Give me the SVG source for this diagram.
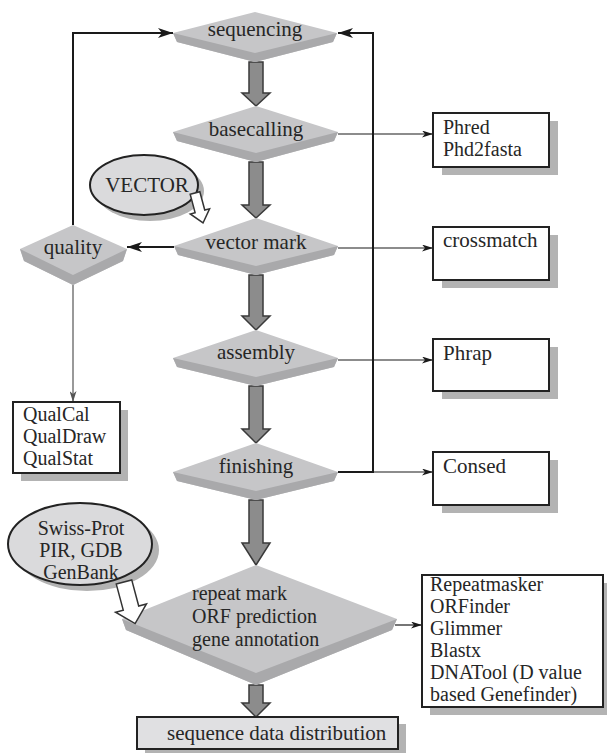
<svg xmlns="http://www.w3.org/2000/svg" width="607" height="753" viewBox="0 0 607 753">
<style>
text{font-family:"Liberation Serif","Times New Roman",serif;font-size:21px;fill:#262626}
.ml{font-size:20px}
.face{fill:#c6c6c8}
.strip{fill:#a9a9ab}
.box{fill:#fff;stroke:#222;stroke-width:2}
.shadow{fill:#b3b3b3}
.ell{fill:#dadadc;stroke:#222;stroke-width:2}
.blk{fill:#8c8c8c;stroke:#3a3a3a;stroke-width:1.5}
.hollow{fill:#fff;stroke:#333;stroke-width:1.5}
.thick{fill:none;stroke:#1a1a1a;stroke-width:2}
.thin{fill:none;stroke:#1a1a1a;stroke-width:1.2}
.mid{text-anchor:middle}
</style>
<defs>
<marker id="big" viewBox="0 0 15 10" refX="15" refY="5" markerWidth="15" markerHeight="10" markerUnits="userSpaceOnUse" orient="auto">
<path d="M0,0 L15,5 L0,10 L4,5 Z" fill="#1a1a1a"/>
</marker>
<marker id="small" viewBox="0 0 11 7" refX="11" refY="3.5" markerWidth="11" markerHeight="7" markerUnits="userSpaceOnUse" orient="auto">
<path d="M0,0 L11,3.5 L0,7 L3,3.5 Z" fill="#1a1a1a"/>
</marker>
<marker id="grey" viewBox="0 0 11 7" refX="11" refY="3.5" markerWidth="11" markerHeight="7" markerUnits="userSpaceOnUse" orient="auto">
<path d="M0,0 L11,3.5 L0,7 L3,3.5 Z" fill="#555"/>
</marker>
</defs>

<g id="connectors">
<polyline class="thick" points="73,225 73,33 173,33" marker-end="url(#big)"/>
<polyline class="thick" points="338,472 373,472 373,33 338,33" marker-end="url(#big)"/>
<line class="thick" x1="174" y1="247" x2="127" y2="247" marker-end="url(#big)"/>
<line class="thin" x1="338" y1="134" x2="433" y2="134" marker-end="url(#small)"/>
<line class="thin" x1="338" y1="248" x2="433" y2="248" marker-end="url(#small)"/>
<line class="thin" x1="338" y1="360" x2="433" y2="360" marker-end="url(#small)"/>
<line class="thin" x1="373" y1="472" x2="433" y2="472" marker-end="url(#small)"/>
<line x1="73" y1="285" x2="73" y2="402" stroke="#555" stroke-width="1.2" marker-end="url(#grey)"/>
<line class="thin" x1="395" y1="625" x2="422" y2="625" marker-end="url(#small)"/>
<path class="blk" d="M249,62 H263 V93 H270 L256,106 L242,93 H249 Z"/>
<path class="blk" d="M249,162 H263 V205 H270 L256,218 L242,205 H249 Z"/>
<path class="blk" d="M249,275 H263 V316 H270 L256,330 L242,316 H249 Z"/>
<path class="blk" d="M249,386 H263 V429 H270 L256,443 L242,429 H249 Z"/>
<path class="blk" d="M249,500 H263 V543 H270 L256,565 L242,543 H249 Z"/>
<path class="blk" d="M249,685 H263 V703 H270 L256,717 L242,703 H249 Z"/>
</g>

<g id="sequencing">
<polygon class="face" points="255,12 337,33 333,42 255,62 177,42 173,33"/>
<polygon class="strip" points="173,33 255,53 337,33 333,42 255,62 177,42"/>
<text class="mid" x="255" y="36">sequencing</text>
</g>

<g id="basecalling">
<polygon class="face" points="256,106 338,132 334,141 256,162 177,141 173,132"/>
<polygon class="strip" points="173,132 256,153 338,132 334,141 256,162 177,141"/>
<text class="mid" x="256" y="136">basecalling</text>
</g>

<g id="vector-mark">
<polygon class="face" points="256,218 338,246 334,255 256,275 178,255 174,246"/>
<polygon class="strip" points="174,246 256,266 338,246 334,255 256,275 178,255"/>
<text class="mid" x="256" y="249">vector mark</text>
</g>

<g id="quality">
<polygon class="face" points="73,225 127,249 123,261 73,285 24,261 20,249"/>
<polygon class="strip" points="20,249 73,275 127,249 123,261 73,285 24,261"/>
<text class="mid" x="73" y="254">quality</text>
</g>

<g id="assembly">
<polygon class="face" points="256,330 338,358 334,367 256,386 177,367 173,358"/>
<polygon class="strip" points="173,358 256,377 338,358 334,367 256,386 177,367"/>
<text class="mid" x="256" y="359">assembly</text>
</g>

<g id="finishing">
<polygon class="face" points="256,443 338,472 334,481 256,500 177,481 173,472"/>
<polygon class="strip" points="173,472 256,491 338,472 334,481 256,500 177,481"/>
<text class="mid" x="256" y="473">finishing</text>
</g>

<g id="annotation">
<polygon class="face" points="256,565 397,619 392,630 256,685 126,630 122,619"/>
<polygon class="strip" points="122,619 256,673 397,619 392,630 256,685 126,630"/>
<text class="ml" x="192" y="600">repeat mark</text>
<text class="ml" x="192" y="623">ORF prediction</text>
<text class="ml" x="192" y="646">gene annotation</text>
</g>

<g id="vector">
<ellipse class="shadow" cx="150" cy="191" rx="54" ry="30"/>
<ellipse class="ell" cx="144" cy="185" rx="54" ry="30"/>
<text class="mid" x="147" y="192">VECTOR</text>
<path class="hollow" transform="translate(195,193) rotate(-15)" d="M-5,0 L5,0 L5,19 L10,19 L0,31 L-10,19 L-5,19 Z"/>
</g>

<g id="databases">
<ellipse class="shadow" cx="87" cy="550" rx="72" ry="41"/>
<ellipse class="ell" cx="80" cy="544" rx="72" ry="41"/>
<text class="mid ml" x="81" y="535">Swiss-Prot</text>
<text class="mid ml" x="81" y="557">PIR, GDB</text>
<text class="mid ml" x="81" y="579">GenBank</text>
<path class="hollow" transform="translate(124,582) rotate(-15)" d="M-8,0 L8,0 L8,27 L16,27 L0,43 L-16,27 L-8,27 Z"/>
</g>

<g id="phred">
<rect class="shadow" x="442" y="121" width="116" height="54"/>
<rect class="box" x="433" y="113" width="116" height="54"/>
<text class="ml" x="443" y="134">Phred</text>
<text class="ml" x="443" y="156">Phd2fasta</text>
</g>

<g id="crossmatch">
<rect class="shadow" x="442" y="235" width="116" height="53"/>
<rect class="box" x="433" y="227" width="116" height="53"/>
<text x="443" y="247">crossmatch</text>
</g>

<g id="phrap">
<rect class="shadow" x="442" y="347" width="116" height="52"/>
<rect class="box" x="433" y="339" width="116" height="52"/>
<text x="443" y="360">Phrap</text>
</g>

<g id="consed">
<rect class="shadow" x="442" y="460" width="116" height="53"/>
<rect class="box" x="433" y="452" width="116" height="53"/>
<text x="443" y="473">Consed</text>
</g>

<g id="tools">
<rect class="shadow" x="430" y="583" width="177" height="132"/>
<rect class="box" x="422" y="575" width="181" height="132"/>
<text class="ml" x="430" y="591">Repeatmasker</text>
<text class="ml" x="430" y="613">ORFinder</text>
<text class="ml" x="430" y="635">Glimmer</text>
<text class="ml" x="430" y="657">Blastx</text>
<text class="ml" x="430" y="679">DNATool (D value</text>
<text class="ml" x="430" y="701">based Genefinder)</text>
</g>

<g id="qualtools">
<rect class="shadow" x="21" y="410" width="107" height="71"/>
<rect class="box" x="13" y="402" width="107" height="71"/>
<text class="ml" x="23" y="421">QualCal</text>
<text class="ml" x="23" y="443">QualDraw</text>
<text class="ml" x="23" y="465">QualStat</text>
</g>

<g id="distribution">
<rect class="shadow" x="145" y="724" width="261" height="32"/>
<rect x="137" y="717" width="261" height="32" fill="#e0e0e2" stroke="#222" stroke-width="2"/>
<text x="167" y="740">sequence data distribution</text>
</g>
</svg>
